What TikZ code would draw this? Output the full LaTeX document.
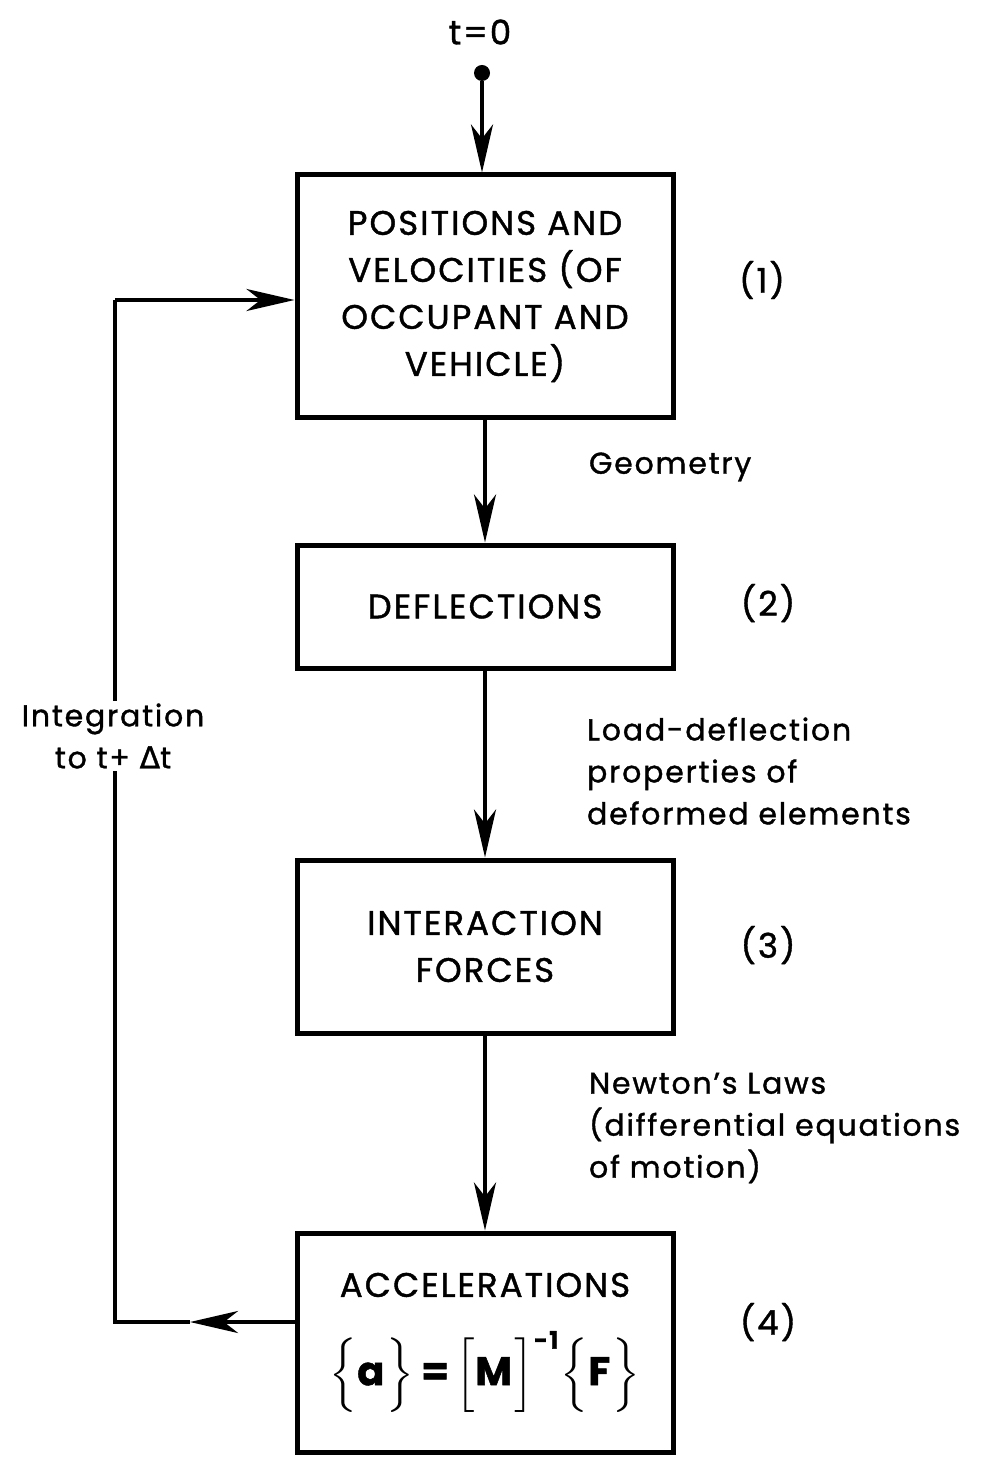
\documentclass[tikz,border=0pt]{standalone}
\usepackage{amsmath}
\usepackage{fontspec}
\setmainfont{Poppins}[LetterSpace=6,FakeBold=1.2]
\newfontfamily\symfont{DejaVu Sans}[FakeBold=1.2]
\usepackage{tikz}
\usetikzlibrary{arrows.meta}
\usetikzlibrary{calc}

\tikzset{
  blk/.style={draw,line width=2.5pt,minimum width=188pt,align=center,
              font=\fontsize{17}{23.5}\selectfont},
  flow/.style={line width=2pt,-{Stealth[length=24pt,width=11pt,inset=7pt]}},
  wire/.style={line width=2pt},
  note/.style={align=left,anchor=west,font=\fontsize{15}{21}\selectfont},
  tag/.style={font=\fontsize{17}{20}\selectfont}
}

\begin{document}
\begin{tikzpicture}[x=0.5pt,y=-0.5pt]
\useasboundingbox (0,0) rectangle (986,1470);
% start
\node[tag] (tzero) at (480,32) {t=0};
\node[circle,fill,inner sep=0pt,minimum size=8pt] (start) at (482,73) {};
% boxes
\node[blk,minimum height=121.5pt] (pos) at (485,296.5)
      {POSITIONS AND\\VELOCITIES (OF\\OCCUPANT AND\\VEHICLE)};
\node[blk,minimum height=61.5pt] (defl) at (485,606.5) {DEFLECTIONS};
\node[blk,minimum height=86.5pt] (force) at (485,946.5)
      {INTERACTION\\FORCES};
\node[blk,minimum height=109.5pt] (acc) at (485,1342.5)
      {ACCELERATIONS\\[16pt]
       {\fontsize{20}{24}\selectfont
       $\Big\{\mbox{\textbf{a}}\Big\}
        \mbox{\textbf{\,=\,}}\Big[\mbox{\textbf{M}}\Big]^{\mbox{\fontsize{12}{12}\selectfont\textbf{-1}}}
        \Big\{\mbox{\textbf{F}}\Big\}$}\rule[-8pt]{0pt}{0pt}};
% step numbers
\node[tag] (n1) at (762,280) {(1)};
\node[tag] (n2) at (768,603) {(2)};
\node[tag] (n3) at (768,945) {(3)};
\node[tag] (n4) at (768,1322) {(4)};
% notes
\node[note] (geo) at (582,467) {Geometry};
\node[note] (load) at (580,771)
      {Load-deflection\\properties of\\deformed elements};
\node[note] (newt) at (582,1128)
      {Newton's Laws\\(differential equations\\of motion)};
% main flow
\draw[flow] (start) -- (start |- pos.north);
\draw[flow] (pos) -- (defl);
\draw[flow] (defl) -- (force);
\draw[flow] (force) -- (acc);
% feedback
\coordinate (mid) at (190,1322);
\coordinate (lb) at (115,1322);
\coordinate (lt) at (115,300);
\draw[flow] (acc.west |- mid) -- (mid);
\draw[wire] (mid) -- (lb) -- (lt);
\draw[flow] (lt) -- (pos.west |- lt);
\node[fill=white,align=center,inner sep=1pt,
      font=\fontsize{15}{21}\selectfont] (integ) at (113,736)
      {Integration\\to t+ {\symfont Δ}t};
\end{tikzpicture}
\end{document}
